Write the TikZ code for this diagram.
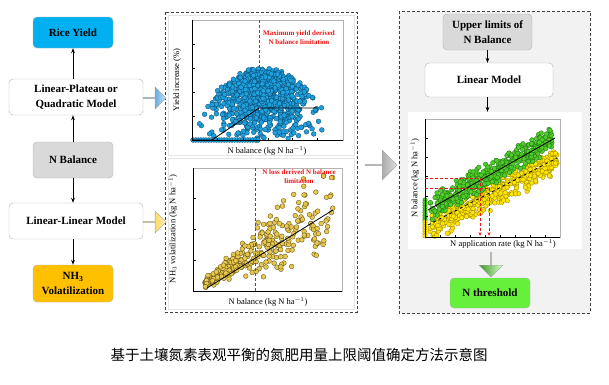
\documentclass[tikz,border=0pt]{standalone}
\usepackage{fontspec}
\setmainfont{Liberation Serif}
\newfontfamily\cjk{Noto Sans CJK SC}
\usetikzlibrary{shapes,arrows.meta}
\definecolor{riceblue}{RGB}{0,176,240}
\definecolor{boxgray}{RGB}{217,217,217}
\definecolor{nhorange}{RGB}{255,192,0}
\definecolor{thrgreen}{RGB}{102,240,60}
\definecolor{panelgray}{RGB}{242,242,242}
\definecolor{limitred}{RGB}{235,20,20}
\tikzset{%
	block/.style    = {draw=gray!60, rounded corners=4pt, align=center,
		font=\bfseries\fontsize{11}{15}\selectfont, inner sep=1pt},
	wide/.style     = {block, minimum width=134pt, minimum height=36pt}, % long box
	narrow/.style   = {block, minimum width=80pt, minimum height=36pt}, % short box
	panel/.style    = {draw=gray!50!black, densely dashed, line width=0.6pt},
	chart/.style    = {draw=gray!20, fill=white, inner sep=0pt},
	fat/.style      = {single arrow, draw=gray!70, inner sep=0pt, line width=0.4pt},
	axlabel/.style  = {font=\fontsize{8.5}{10}\selectfont},
	redtext/.style  = {text=limitred, align=center, font=\bfseries\fontsize{7}{9}\selectfont},
	limit/.style    = {draw=limitred, densely dashed, line width=1pt}, % red limit line
	bluept/.style   = {fill={rgb,255:red,30;green,160;blue,220}, draw={rgb,255:red,10;green,70;blue,110}, line width=0.3pt},
	goldpt/.style   = {fill={rgb,255:red,230;green,200;blue,80}, draw={rgb,255:red,90;green,70;blue,10}, line width=0.3pt},
	greenpt/.style  = {fill={rgb,255:red,80;green,205;blue,40}, draw={rgb,255:red,30;green,110;blue,20}, line width=0.3pt},
	yellowpt/.style = {fill={rgb,255:red,255;green,230;blue,0}, draw={rgb,255:red,150;green,130;blue,0}, line width=0.3pt}
}

\begin{document}
\begin{tikzpicture}[x=1pt,y=-1pt]
	\useasboundingbox (0,0) rectangle (609,384);
	\pgfmathsetseed{7}

	% left column
	\node[narrow, fill=riceblue, minimum height=31pt] (ry) at (73,32.5) {Rice Yield};
	\node[wide, fill=white] (lp) at (76,97) {Linear-Plateau or\\Quadratic Model};
	\node[narrow, fill=boxgray] (nb) at (73,160) {N Balance};
	\node[wide, fill=white] (ll) at (76,221) {Linear-Linear Model};
	\node[narrow, fill=nhorange, minimum height=37pt] (nh) at (73,283.5) {NH\textsubscript{3}\\Volatilization};

	\draw[thick,-{Stealth[length=5pt]}] (nb.north) -- (nb.north |- lp.south);
	\draw[thick,-{Stealth[length=5pt]}] (lp.south -| ry.south) ++(0,-36) -- (ry.south);
	\draw[thick,-{Stealth[length=5pt]}] (nb.south) -- (nb.south |- ll.north);
	\draw[thick,-{Stealth[length=5pt]}] (nb.south |- ll.south) -- (nh.north);

	% middle panel
	\draw[panel] (165,12) rectangle (357,312);
	\node[chart, minimum width=186pt, minimum height=140pt] (ychart) at (261,85) {};
	\node[chart, minimum width=186pt, minimum height=151pt] (nchart) at (261,233.5) {};

	% yield plot
	\foreach \i in {1,...,850}{
		\pgfmathsetmacro\px{262+30*(rand+rand+rand)/1.3}
		\pgfmathsetmacro\hm{max(0,70-42*((\px-262)/65)^2)}
		\pgfmathsetmacro\py{min(140,140-\hm*pow(rnd,0.55)+3*rand)}
		\filldraw[bluept] (\px,\py) circle (2.4);
	}
	\foreach \i in {0,...,25}
		\filldraw[bluept] (193+\i*2.6,140) circle (2.4);
	\draw[gray!60] (192,20) rectangle (343,140);
	\draw (192,20) -- (192,140) -- (343,140);
	\foreach \y in {44,68,92,116} \draw (192,\y) -- ++(3,0);
	\foreach \x in {217,243,268,292,317} \draw (\x,140) -- ++(0,-2);
	\draw[line width=0.8pt] (192,140) -- (212,140) -- (259,108) -- (317,108);
	\draw[limit] (259,20) -- (259,140);
	\node[redtext] (ytxt) at (299,38) {Maximum yield derived\\N balance limitation};
	\node[axlabel] (yxl) at (267,151) {N balance (kg N ha$^{-1}$)};
	\node[axlabel, rotate=90] (yyl) at (177,80) {Yield increase (\%)};

	% volatilization plot
	\foreach \i in {1,...,340}{
		\pgfmathsetmacro\px{205+128*pow(rnd,1.5)}
		\pgfmathsetmacro\py{max(176,min(290,284-0.62*(\px-207)+(3+0.3*(\px-207))*(rand+rand)/1.3-4*rnd))}
		\filldraw[goldpt] (\px,\py) circle (2.4);
	}
	\draw[gray!60] (193,168) rectangle (342,291);
	\draw (193,168) -- (193,291) -- (342,291);
	\foreach \y in {198,229,260} \draw (193,\y) -- ++(3,0);
	\draw[line width=0.8pt] (207,288) -- (333,210);
	\draw[limit] (255,168) -- (255,291);
	\node[redtext] (ntxt) at (299,177) {N loss derived N balance\\limitation};
	\node[axlabel] (nxl) at (268,302) {N balance (kg N ha$^{-1}$)};
	\node[axlabel, rotate=90] (nyl) at (173,229) {NH$_3$ volatilization (kg N ha$^{-1}$)};

	\node[fat, minimum height=23pt, minimum width=22pt, single arrow head extend=6pt,
		left color={rgb,255:red,0;green,112;blue,192}, right color={rgb,255:red,200;green,230;blue,250}] (barrow) at (154.5,98) {};
	\node[fat, minimum height=23pt, minimum width=22pt, single arrow head extend=6pt,
		left color=nhorange, right color={rgb,255:red,255;green,240;blue,190}] (garrow) at (154.5,222) {};

	% right panel
	\draw[panel, fill=panelgray] (399,11) rectangle (590,313);
	\node[narrow, fill=boxgray, minimum width=89pt] (ul) at (487.5,32) {Upper limits of\\N Balance};
	\node[wide, fill=white, minimum width=128pt, minimum height=34pt] (lm) at (489,80) {Linear Model};
	\node[chart, draw=none, minimum width=174pt, minimum height=137pt] (rplot) at (495,180.5) {};
	\node[block, fill=thrgreen, minimum width=80pt, minimum height=30pt] (nt) at (490,293) {N threshold};

	\draw[thick,-{Stealth[length=5pt]}] (ul.south) -- (ul.south |- lm.north);
	\draw[thick,-{Stealth[length=5pt]}] (ul.south |- lm.south) -- (ul.south |- rplot.north);

	\foreach \i in {1,...,450}{
		\pgfmathsetmacro\px{430+127*rnd}
		\pgfmathsetmacro\py{min(236,228-0.52*(\px-428)+8*(rand+rand))}
		\filldraw[yellowpt] (\px,\py) circle (2.3);
	}
	\foreach \i in {1,...,450}{
		\pgfmathsetmacro\px{430+122*pow(rnd,0.9)}
		\pgfmathsetmacro\py{min(234,209-0.567*(\px-428)+7*(rand+rand))}
		\filldraw[greenpt] (\px,\py) circle (2.3);
	}
	\foreach \i in {0,...,8} \filldraw[greenpt] (425,200+\i*2.5) circle (2.3);
	\foreach \i in {0,...,6} \filldraw[yellowpt] (425,222+\i*2.3) circle (2.3);
	\draw[gray!60] (425,119) rectangle (560,237);
	\draw (425,119) -- (425,237) -- (560,237);
	\foreach \y in {138,157,176,196,216} \draw (425,\y) -- ++(3,0);
	\foreach \x in {440,455,470,485,500,515,530,545} \draw (\x,237) -- ++(0,-2);
	\draw[line width=0.8pt] (428,210) -- (555,138);
	\draw[line width=0.8pt, dashed] (428,225) -- (557,158);
	\draw[limit, line width=0.6pt] (425,178) -- (480,178);
	\draw[limit, line width=0.6pt] (425,188) -- (489,188);
	\draw[limit, line width=0.6pt, -{Stealth[length=4pt]}] (480,178) -- (480,236);
	\draw[limit, line width=0.6pt, -{Stealth[length=4pt]}] (489,188) -- (489,236);
	\node[axlabel] (rxl) at (503,244) {N application rate (kg N ha$^{-1}$)};
	\node[axlabel, rotate=90] (ryl) at (415,178) {N balance (kg N ha$^{-1}$)};

	\node[fat, rotate=-90, minimum height=25pt, minimum width=24pt, single arrow head extend=6pt,
		left color={rgb,255:red,60;green,150;blue,40}, right color={rgb,255:red,215;green,255;blue,200}] (tarrow) at (491,264.5) {};

	% arrow between panels
	\node[fat, minimum height=32pt, minimum width=30pt, single arrow head extend=7pt,
		left color=gray!90!black, right color=gray!25] (karrow) at (381,165) {};

	% caption
	\node[font=\cjk\fontsize{14.5}{16}\selectfont] (cap) at (299,355) {基于土壤氮素表观平衡的氮肥用量上限阈值确定方法示意图};
\end{tikzpicture}
\end{document}
